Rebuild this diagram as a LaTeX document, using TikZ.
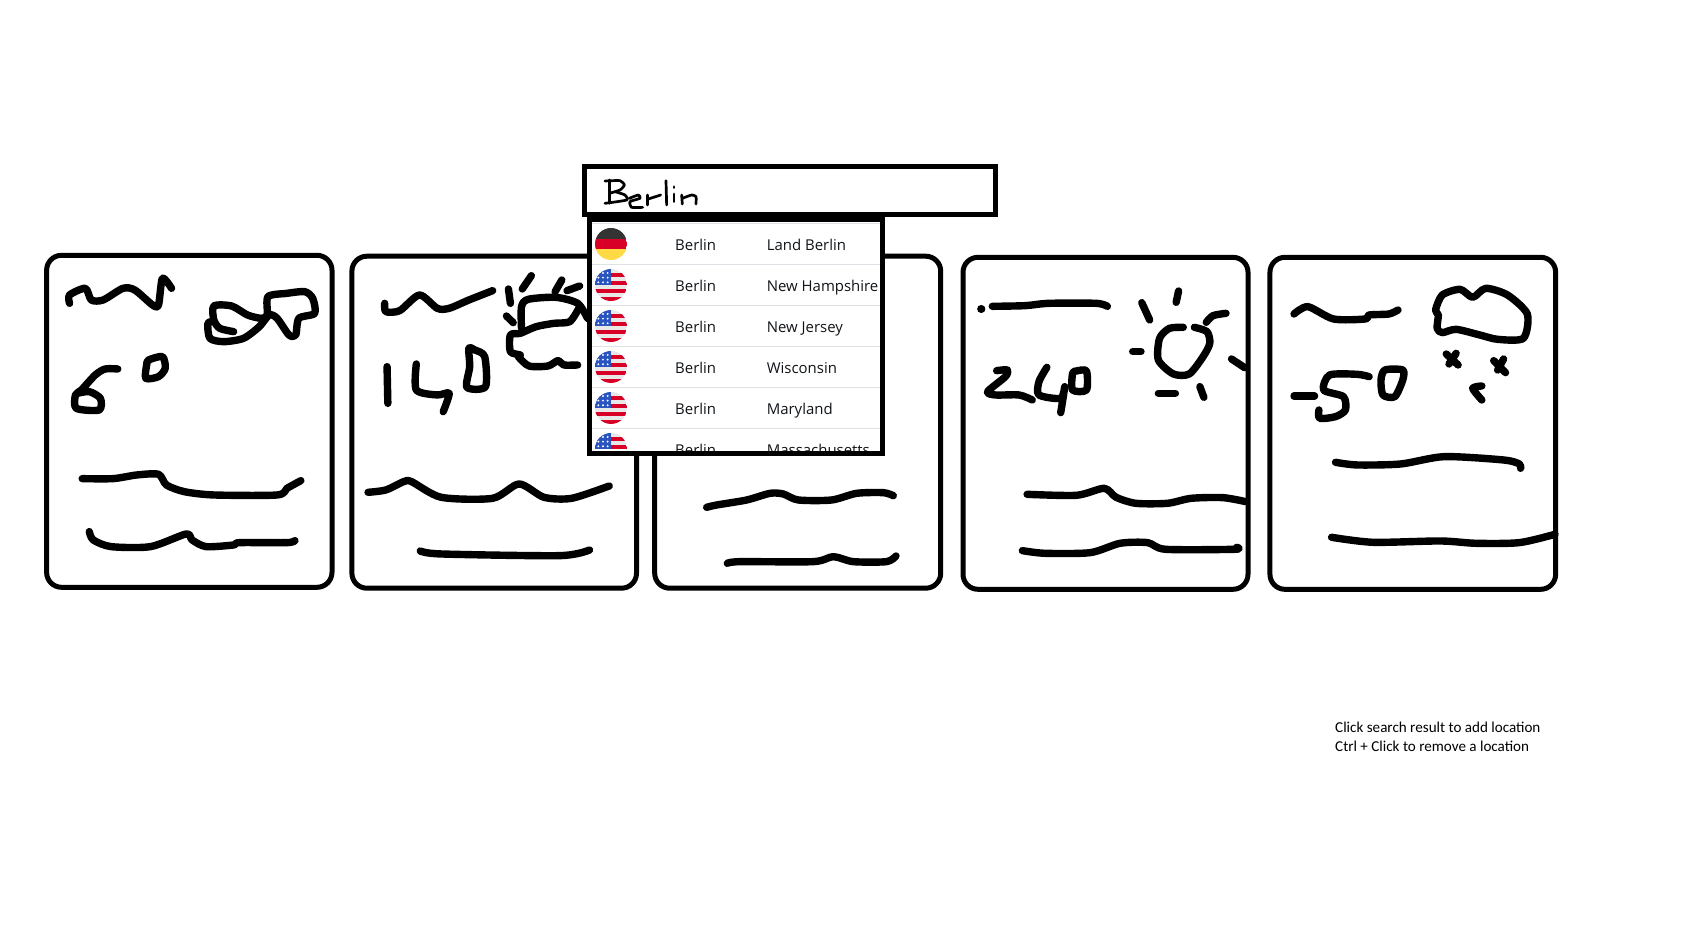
\documentclass[tikz,border=0pt]{standalone}
\usepackage{fontspec}
\setmainfont{Open Sans}
\newfontfamily\notefont{Carlito}
\definecolor{rowline}{HTML}{DEE2E6}
\definecolor{rowtext}{HTML}{101418}
\definecolor{flagred}{HTML}{D80027}
\definecolor{flagblue}{HTML}{2A55C0}
\definecolor{flagyellow}{HTML}{FFDA44}
\definecolor{flagdark}{HTML}{333333}
\definecolor{flaglight}{HTML}{E8E8E8}
\tikzset{
  cardbox/.style={draw=black,line width=5bp,rounded corners=15bp,fill=white,inner sep=0pt},
  sk/.style={draw=black,line width=7.4bp,line cap=round,line join=round},
  thinsk/.style={draw=black,line width=2.7bp,line cap=round,line join=round},
  framebox/.style={draw=black,line width=5.2bp,fill=white},
  rowrule/.style={draw=rowline,line width=.9bp},
  rowlabel/.style={anchor=base west,inner sep=0pt,text=rowtext,font=\fontsize{15}{17}\selectfont},
  notelabel/.style={anchor=base west,inner sep=0pt,text=black,font=\notefont\fontsize{15.15}{17}\selectfont},
  zoomA/.style={x=.3954bp,y=-.3333bp},
  zoomB/.style={x=.3333bp,y=-.3333bp},
}
\newcommand{\sk}[1]{\draw[sk] plot[smooth,tension=.45] coordinates {#1};}
\newcommand{\skc}[1]{\draw[sk] plot[smooth cycle,tension=.45] coordinates {#1};}
\newcommand{\thin}[1]{\draw[thinsk] plot[smooth,tension=.35] coordinates {#1};}
% flags, in the units of the 3x crop
\newcommand{\deflag}[1]{\begin{scope}
  \clip (123,#1) circle[radius=48];
  \fill[flagdark] (75,#1-48) rectangle (171,#1-16);
  \fill[flagred] (75,#1-16) rectangle (171,#1+16);
  \fill[flagyellow] (75,#1+16) rectangle (171,#1+48);
\end{scope}}
\newcommand{\usflag}[1]{\begin{scope}
  \clip (123,#1) circle[radius=48];
  \fill[flaglight] (75,#1-48) rectangle (171,#1+48);
  \foreach \s in {-37,-13,11,35} {\fill[flagred] (75,#1+\s) rectangle (171,#1+\s+12);}
  \fill[flagblue] (75,#1-48) rectangle (123,#1);
  \foreach \sx in {85,99,113} {\foreach \sy in {-36,-22,-8} {\fill[white] (\sx,#1+\sy) circle[radius=3.2];}}
\end{scope}}
\begin{document}
\begin{tikzpicture}[x=1bp,y=-1bp]
\useasboundingbox (0,0) rectangle (1687,926);
\fill[white] (0,0) rectangle (1687,926);
% cards
\node[cardbox,minimum width=285.4bp,minimum height=332bp] (card1) at (189.3,421.3) {};
\node[cardbox,minimum width=284.6bp,minimum height=332bp] (card2) at (494.2,422.2) {};
\node[cardbox,minimum width=286bp,minimum height=332bp] (card3) at (797.7,422.2) {};
\node[cardbox,minimum width=285bp,minimum height=332bp] (card4) at (1105.5,423.3) {};
\node[cardbox,minimum width=285.7bp,minimum height=332bp] (card5) at (1412.8,423.3) {};
% card 1 and 2 sketches
\begin{scope}[shift={(30,240)},zoomA]
\sk{(100,190)(100,165)(140,145)(155,180)(185,180)(235,145)(265,150)(310,195)(325,195)(335,115)(358,145)}
\sk{(515,275)(480,265)(465,240)(465,198)(510,198)(550,225)(585,235)(600,225)(602,170)(650,160)(695,155)(715,175)(720,220)(680,235)(672,285)(655,285)(625,235)(605,225)(580,260)(540,295)(490,305)(455,295)(450,250)(465,245)}
\sk{(222,387)(190,387)(165,405)(130,450)(115,465)(117,505)(175,510)(178,475)(150,455)(120,460)}
\skc{(300,360)(335,350)(342,385)(325,410)(293,415)(295,375)}
\sk{(132,716)(210,716)(270,705)(325,703)(345,735)(390,755)(465,765)(625,765)(650,745)(685,722)}
\sk{(150,875)(160,900)(205,920)(305,920)(395,882)(410,900)(445,920)(515,915)(530,908)(650,908)(670,902)}
\sk{(897,190)(900,215)(935,212)(985,165)(1030,205)(1060,205)(1110,180)(1170,152)}
\sk{(1210,147)(1215,190)}
\sk{(1268,107)(1245,147)}
\sk{(1345,120)(1328,155)}
\sk{(1390,138)(1358,152)}
\sk{(1205,228)(1222,248)}
\sk{(1243,265)(1243,200)(1260,178)(1330,172)(1385,190)(1410,235)}
\sk{(1388,205)(1365,245)(1325,250)(1280,260)(1240,280)(1215,285)(1215,335)(1240,345)(1235,350)(1262,378)(1310,378)(1335,362)(1350,375)(1385,375)}
\sk{(903,380)(905,490)}
\sk{(977,372)(977,450)(1030,465)(1060,460)(1045,515)}
\skc{(1110,325)(1125,330)(1150,350)(1152,440)(1105,442)(1112,380)}
\sk{(855,757)(900,750)(945,725)(965,725)(1040,772)(1170,775)(1237,732)(1300,772)(1370,775)(1465,738)}
\sk{(987,933)(1040,942)(1340,947)(1415,930)}
\end{scope}
% card 3 sketches
\begin{scope}[shift={(650,400)},zoomB]
\sk{(170,322)(200,315)(290,300)(360,280)(400,282)(445,300)(545,300)(620,280)(700,278)(730,287)}
\sk{(232,490)(270,485)(490,485)(550,470)(610,485)(710,485)(738,468)}
\end{scope}
% card 4 and 5 sketches
\begin{scope}[shift={(950,240)},zoomA]
\sk{(78,207)(80,207)}
\sk{(107,199)(190,197)(250,190)(370,190)(398,199)}
\sk{(485,188)(505,240)}
\sk{(578,153)(572,187)}
\sk{(648,247)(665,227)(698,220)}
\sk{(712,357)(745,383)}
\sk{(462,335)(483,335)}
\sk{(527,460)(570,460)}
\sk{(632,440)(642,472)}
\sk{(590,262)(555,265)(530,295)(527,360)(565,402)(605,402)(640,350)(657,310)(650,275)(618,262)}
\sk{(118,392)(145,390)(140,410)(95,455)(115,465)(175,465)(208,480)}
\sk{(245,382)(225,425)(225,465)(280,475)(290,440)(280,518)}
\skc{(320,393)(345,393)(345,450)(310,450)(310,400)}
\sk{(195,763)(320,766)(390,745)(420,772)(470,790)(550,790)(610,775)(690,773)(748,785)}
\sk{(183,932)(240,940)(355,938)(430,910)(500,908)(545,928)(720,928)(725,922)}
\sk{(870,222)(905,200)(970,237)(1050,237)(1060,225)(1110,222)(1133,210)}
\skc{(1228,210)(1245,165)(1290,148)(1322,172)(1355,145)(1410,165)(1460,222)(1450,295)(1385,298)(1340,285)(1280,268)(1245,278)(1232,265)(1235,225)}
\sk{(1255,342)(1285,375)}
\sk{(1280,340)(1262,372)}
\sk{(1375,362)(1405,398)}
\sk{(1400,357)(1385,390)}
\sk{(1345,438)(1322,445)(1345,480)}
\sk{(870,468)(922,468)}
\sk{(1060,410)(1030,403)(960,405)(945,450)(995,470)(1000,510)(975,530)(935,535)(933,510)}
\skc{(1100,390)(1145,390)(1145,420)(1125,470)(1095,465)(1090,420)}
\sk{(975,667)(1030,675)(1140,672)(1250,650)(1400,660)(1440,672)(1443,685)}
\sk{(965,892)(1070,907)(1240,903)(1330,910)(1440,908)(1530,883)}
\end{scope}
% search box and drop-down
\begin{scope}[shift={(570,150)},zoomB]
\fill[white] (58,205) rectangle (937,910);
\foreach \ry in {219,343,466,589,712,835} {\draw[rowrule] (66,\ry) -- (930,\ry);}
\deflag{282}
\usflag{405}
\usflag{528}
\usflag{651}
\usflag{774}
\begin{scope}
\clip (60,835) rectangle (935,897);
\usflag{897}
\end{scope}
\node[rowlabel] (n1a) at (315,303) {Berlin};
\node[rowlabel] (n1b) at (590,303) {Land Berlin};
\node[rowlabel] (n2a) at (315,426) {Berlin};
\node[rowlabel] (n2b) at (590,426) {New Hampshire};
\node[rowlabel] (n3a) at (315,549) {Berlin};
\node[rowlabel] (n3b) at (590,549) {New Jersey};
\node[rowlabel] (n4a) at (315,672) {Berlin};
\node[rowlabel] (n4b) at (590,672) {Wisconsin};
\node[rowlabel] (n5a) at (315,795) {Berlin};
\node[rowlabel] (n5b) at (590,795) {Maryland};
\begin{scope}
\clip (60,835) rectangle (935,903);
\node[rowlabel] (n6a) at (315,918) {Berlin};
\node[rowlabel] (n6b) at (590,918) {Massachusetts};
\end{scope}
\draw[draw=black,line width=5.2bp] (58,208) rectangle (937,910);
\draw[framebox] (43,49) rectangle (1277,193);
\thin{(118,90)(118,160)}
\thin{(105,93)(150,92)(163,105)(150,120)(118,130)}
\thin{(135,125)(165,135)(170,150)(105,160)}
\thin{(178,145)(205,135)(210,145)(180,155)(185,172)(218,172)}
\thin{(232,135)(232,165)}
\thin{(232,148)(272,135)}
\thin{(288,92)(290,165)}
\thin{(312,110)(312,113)}
\thin{(312,132)(312,155)}
\thin{(335,135)(337,162)}
\thin{(337,145)(365,135)(378,140)(378,162)}
\end{scope}
% note
\node[notelabel] (note1) at (1335,732) {Click search result to add location};
\node[notelabel] (note2) at (1335,751) {Ctrl + Click to remove a location};
\end{tikzpicture}
\end{document}
